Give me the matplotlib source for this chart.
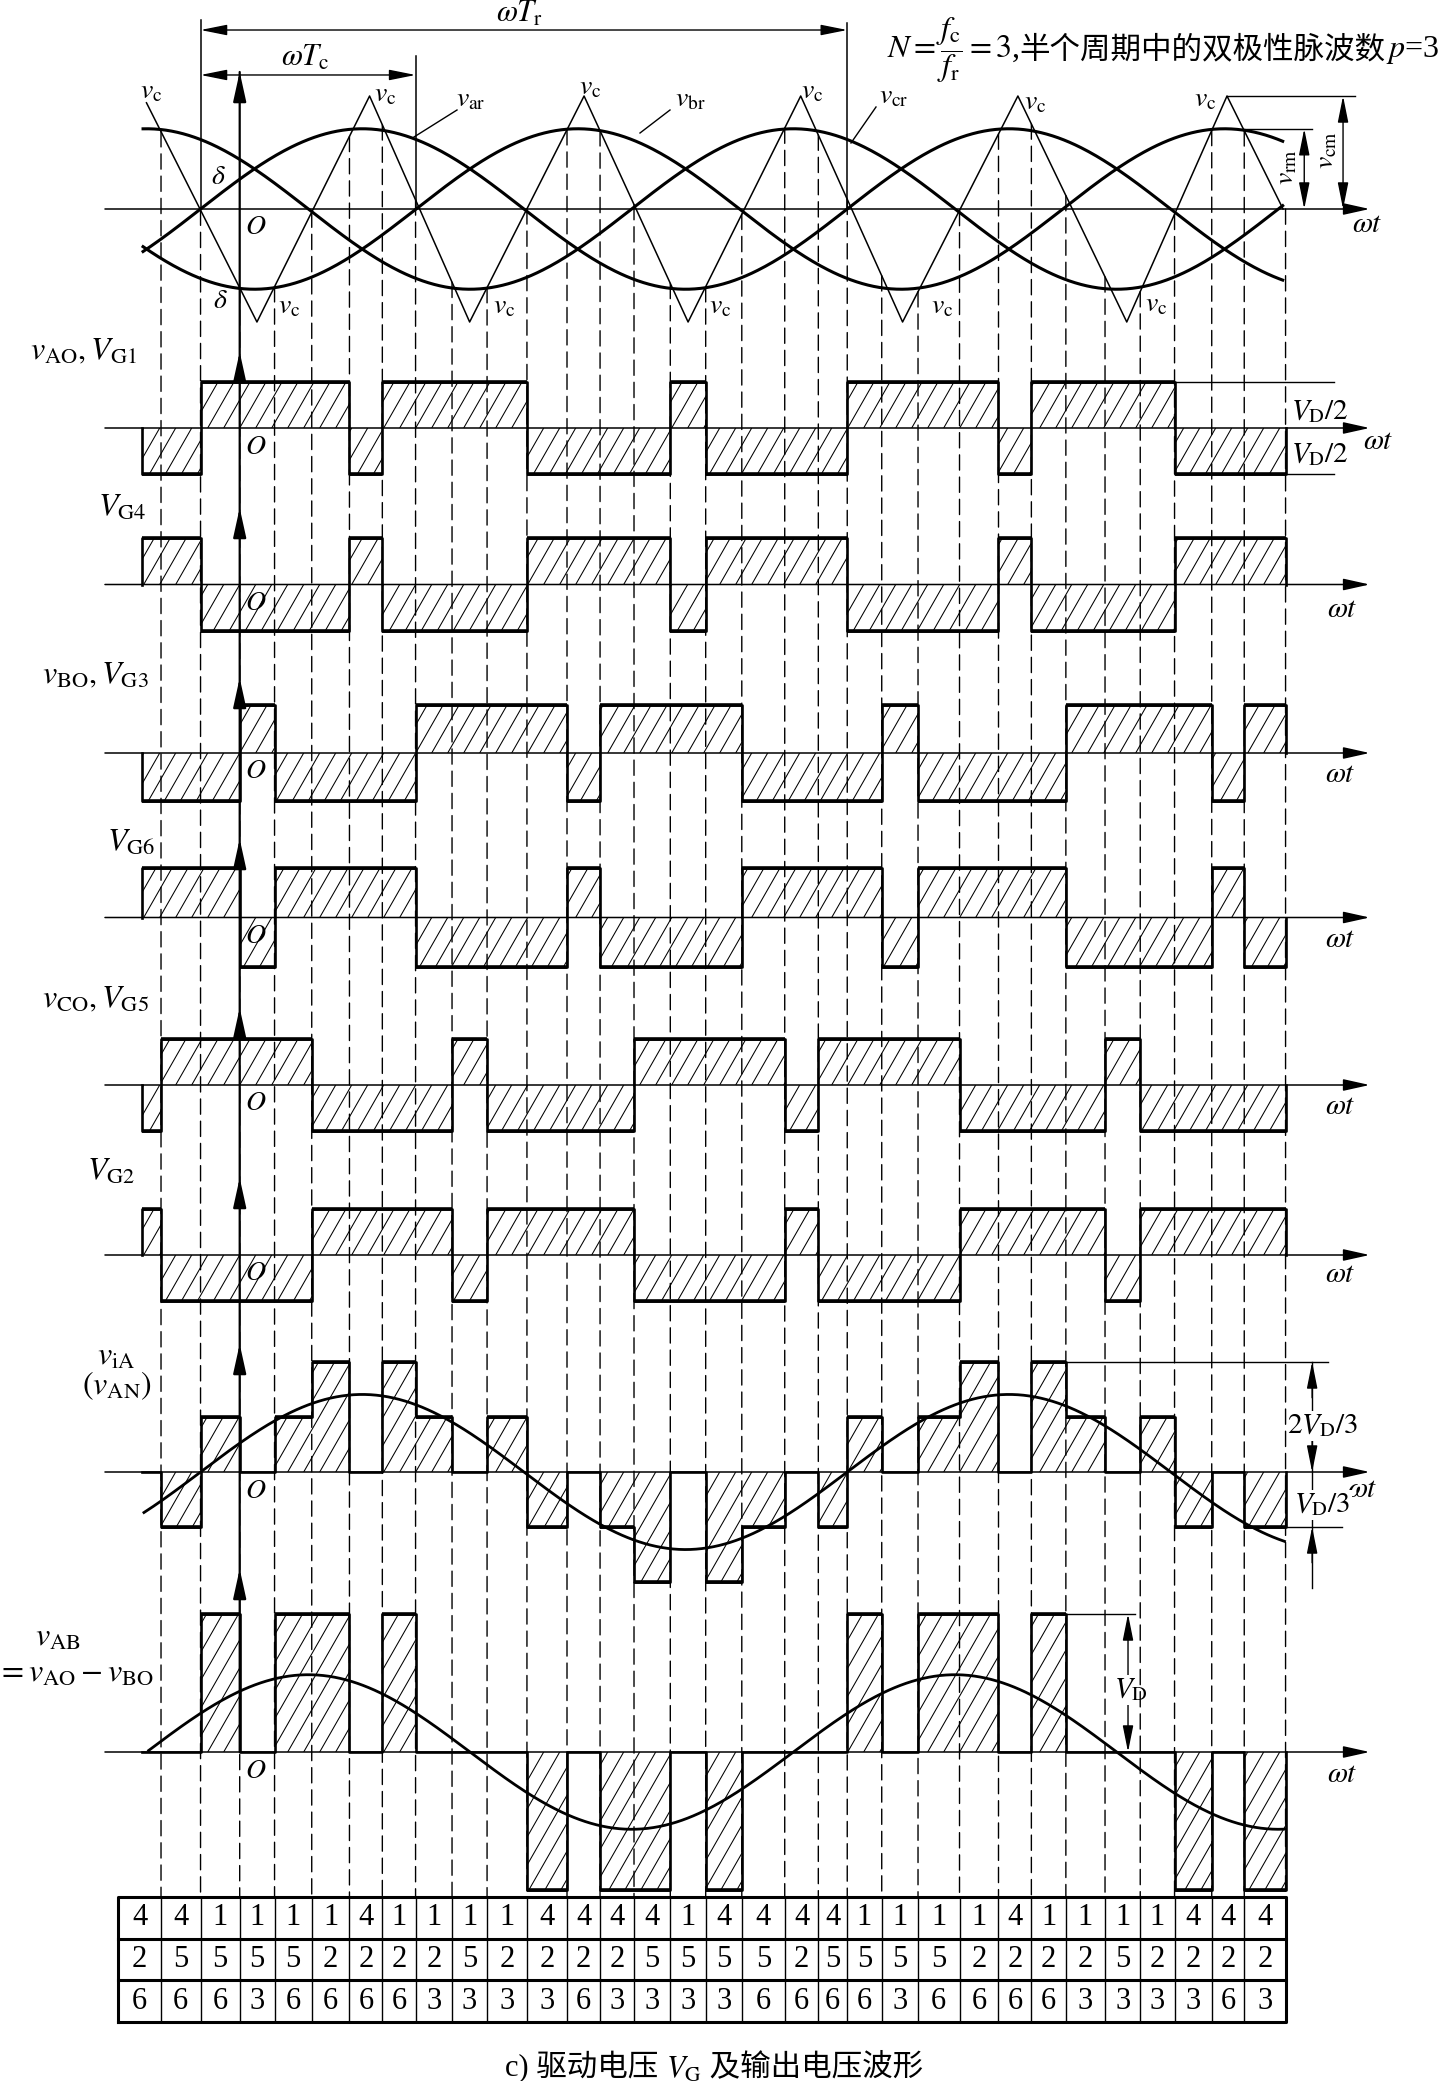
import numpy as np
import matplotlib
matplotlib.use("Agg")
import matplotlib.pyplot as plt
from matplotlib.collections import LineCollection
from matplotlib.patches import ConnectionPatch
from matplotlib.transforms import Bbox, TransformedBbox

plt.rcParams['font.family'] = ['Liberation Serif', 'Noto Sans CJK SC', 'DejaVu Sans']
plt.rcParams['mathtext.fontset'] = 'stix'

# ============================================================
# data  (x = wt in degrees, 0 at origin O)
# ============================================================
# switching instants: dashed lines and table column borders
edges = [-67.7, -43.8, -21.8, 0.0, 19.4, 40.1, 61.1, 79.4, 97.9, 118.2, 137.7,
         159.9, 182.2, 200.6, 219.5, 239.7, 259.4, 279.5, 303.4, 322.1, 338.2,
         357.4, 377.6, 400.7, 422.4, 440.7, 459.9, 481.7, 501.3, 520.4, 541.1,
         559.2, 582.2]
# table rows: devices that conduct in each interval
row_a = [4, 4, 1, 1, 1, 1, 4, 1, 1, 1, 1, 4, 4, 4, 4, 1, 4, 4, 4, 4, 1, 1, 1, 1, 4, 1, 1, 1, 1, 4, 4, 4]
row_c = [2, 5, 5, 5, 5, 2, 2, 2, 2, 5, 2, 2, 2, 2, 5, 5, 5, 5, 2, 5, 5, 5, 5, 2, 2, 2, 2, 5, 2, 2, 2, 2]
row_b = [6, 6, 6, 3, 6, 6, 6, 6, 3, 3, 3, 3, 6, 3, 3, 3, 3, 6, 6, 6, 6, 3, 6, 6, 6, 6, 3, 3, 3, 3, 6, 3]
pulse_start = -54.4          # pulses begin here (table starts further left)

# triangular carrier corners (level: 1 = carrier peak)
carrier_x = [-51.9, 9.6, 72.3, 128.0, 191.7, 249.6, 312.3, 369.0, 433.2, 493.8, 549.6, 580.8]
carrier_y = [0.94, -1, 1, -1, 1, -1, 1, -1, 1, -1, 1, 0]

# three reference sines v_ar, v_br, v_cr
ref_amp = 0.71
ref_zero = -21.8             # rising zero of v_ar
ref_shift = [0, 120, 240]
ref_lo, ref_hi = -53.8, 580.6

# fundamentals drawn in the v_AN and v_AB panels (units of V_D)
van_amp, van_lo, van_hi = 0.47, -53.3, 581.6
vab_amp, vab_zero, vab_lo, vab_hi = 0.56, -51.8, -50.7, 582.2

# pole voltages from the table (units of V_D)
vao = [0.5 if a == 1 else -0.5 for a in row_a]
vbo = [0.5 if b == 3 else -0.5 for b in row_b]
vco = [0.5 if c == 5 else -0.5 for c in row_c]
vg4 = [-v for v in vao]
vg6 = [-v for v in vbo]
vg2 = [-v for v in vco]
van = [(2 * a - b - c) / 3 for a, b, c in zip(vao, vbo, vco)]
vab = [a - b for a, b in zip(vao, vbo)]

# ============================================================
# layout (pixels of the 1456 x 2081 picture)
# ============================================================
W, H = 1456, 2081
O_PX, PX_DEG = 239.7, 1.7964
XL = (-O_PX / PX_DEG, (W - O_PX) / PX_DEG)
AX_L, AX_R = -75.0, 629.0
SLOPE, HSTEP = 1.75, 16.0     # hatch slope (px/px) and spacing (px)
LABEL_FS = 23
ARROW = dict(color='k', lw=1.0, shrinkA=0, shrinkB=0, mutation_scale=18)

fig = plt.figure(figsize=(W / 100, H / 100), dpi=100)


def add_panel(top, bot, base, scale):
    ax = fig.add_axes([0, 1 - bot / H, 1, (bot - top) / H])
    ax.set_xlim(XL)
    ax.set_ylim(-(bot - base) / scale, (base - top) / scale)
    ax.axis('off')
    return ax


def hatch(ax, x0, x1, y0, y1, scale):
    k = SLOPE * PX_DEG / scale
    lo, hi = min(y0, y1), max(y0, y1)
    step = HSTEP / PX_DEG
    cs = np.arange(np.floor((x0 - hi / k) / step) * step, x1 - lo / k + step, step)
    segs = [[(c + lo / k, lo), (c + hi / k, hi)] for c in cs]
    lc = LineCollection(segs, colors='k', linewidths=0.75)
    ax.add_collection(lc)
    lc.set_clip_path(None)
    lc.set_clip_box(TransformedBbox(Bbox.from_extents(x0, lo, x1, hi), ax.transData))


def axis_arrow(ax):
    ax.annotate('', xy=(AX_R, 0), xytext=(AX_L, 0),
                arrowprops=dict(arrowstyle='-|>,head_length=0.9,head_width=0.2', **dict(ARROW, lw=1.1)))


def wave(ax, levels, scale):
    xs = [max(e, pulse_start) for e in edges]
    for i, L in enumerate(levels):
        if L == 0:
            continue
        hatch(ax, xs[i], xs[i + 1], 0, L, scale)
        ax.plot([xs[i], xs[i + 1]], [L, L], color='k', lw=2.6, solid_capstyle='butt')
    px, py = [xs[0]], [0]
    for i, L in enumerate(levels):
        px += [xs[i], xs[i + 1]]
        py += [L, L]
    px.append(xs[-1])
    py.append(0)
    ax.plot(px, py, color='k', lw=1.9)


# ---------------- top panel: carrier and references ----------------
ax_top = add_panel(0, 335, 209, 113)
axis_arrow(ax_top)
ax_top.plot(carrier_x, carrier_y, color='k', lw=1.1)
t = np.linspace(ref_lo, ref_hi, 600)
for s in ref_shift:
    ax_top.plot(t, ref_amp * np.sin(np.radians(t - ref_zero - s)), color='k', lw=2.2)

# dimension lines wTr / wTc
for e, h in [(edges[2], 1.67), (edges[8], 1.35), (edges[20], 1.65)]:
    ax_top.plot([e, e], [0, h], color='k', lw=1.1)
for x1, yy in [(edges[20], 1.584), (edges[8], 1.186)]:
    ax_top.annotate('', xy=(x1, yy), xytext=(edges[2], yy),
                    arrowprops=dict(arrowstyle='<|-|>,head_length=0.9,head_width=0.18', **ARROW))
# v_rm / v_cm
ax_top.plot([558.6, 597.0], [ref_amp, ref_amp], color='k', lw=1.0)
ax_top.plot([carrier_x[-2], 620.9], [1, 1], color='k', lw=1.0)
for xa, ya in [(592.6, ref_amp), (614.2, 1.0)]:
    ax_top.annotate('', xy=(xa, ya), xytext=(xa, 0),
                    arrowprops=dict(arrowstyle='<|-|>,head_length=0.9,head_width=0.18', **ARROW))

# ---------------- pulse panels ----------------
panels = [
    # levels, band top, band bottom, baseline, px per V_D
    (vao, 335, 500, 428, 92),
    (vg4, 500, 665, 584.5, 92),
    (vbo, 665, 830, 753, 96),
    (vg6, 830, 995, 917.5, 98),
    (vco, 995, 1160, 1085, 92),
    (vg2, 1160, 1330, 1255, 92),
    (van, 1330, 1598, 1472, 165),
    (vab, 1598, 1897, 1752, 138),
]
axes = []
for levels, top, bot, base, scale in panels:
    ax = add_panel(top, bot, base, scale)
    axis_arrow(ax)
    wave(ax, levels, scale)
    axes.append(ax)

ax_an, ax_ab = axes[6], axes[7]
t = np.linspace(van_lo, van_hi, 600)
ax_an.plot(t, van_amp * np.sin(np.radians(t - ref_zero)), color='k', lw=2.0)
t = np.linspace(vab_lo, vab_hi, 600)
ax_ab.plot(t, vab_amp * np.sin(np.radians(t - vab_zero)), color='k', lw=2.0)

# extension lines on the right
ax_ao = axes[0]
ax_ao.plot([edges[29], 609.2], [0.5, 0.5], color='k', lw=1.0)
ax_ao.plot([edges[-1], 609.2], [-0.5, -0.5], color='k', lw=1.0)
ax_an.plot([edges[26], 605.9], [2 / 3, 2 / 3], color='k', lw=1.0)
ax_an.plot([edges[-1], 613.7], [-1 / 3, -1 / 3], color='k', lw=1.0)
ax_an.plot([597.0, 597.0], [-0.7, 2 / 3], color='k', lw=1.0)
for tip, tail in [(2 / 3, 0.45), (0, 0.2), (-1 / 3, -0.55)]:
    ax_an.annotate('', xy=(597.0, tip), xytext=(597.0, tail),
                   arrowprops=dict(arrowstyle='-|>,head_length=0.9,head_width=0.18', **ARROW))
ax_ab.plot([edges[26], 498.4], [1, 1], color='k', lw=1.0)
ax_ab.annotate('', xy=(494.5, 1), xytext=(494.5, 0),
               arrowprops=dict(arrowstyle='<|-|>,head_length=0.9,head_width=0.18', **ARROW))

# ---------------- table ----------------
ax_tab = fig.add_axes([0, 1 - 2022 / H, 1, (2022 - 1897) / H])
ax_tab.set_xlim(XL)
ax_tab.set_ylim(0, 3)
ax_tab.axis('off')
x0, x1 = edges[0], edges[-1]
ax_tab.plot([x0, x1, x1, x0, x0], [0, 0, 3, 3, 0], color='k', lw=2.2, clip_on=False)
for yy in (1, 2):
    ax_tab.plot([x0, x1], [yy, yy], color='k', lw=2.2, clip_on=False)
for e in edges[1:-1]:
    ax_tab.plot([e, e], [0, 3], color='k', lw=1.0, clip_on=False)
for r, row in enumerate([row_a, row_c, row_b]):
    for i, v in enumerate(row):
        ax_tab.text((edges[i] + edges[i + 1]) / 2, 2.5 - r, str(v), ha='center', va='center',
                    fontsize=22)

# dashed switching lines: from the carrier crossing down to the table
for e in edges[1:]:
    cp = ConnectionPatch(xyA=(e, np.interp(e, carrier_x, carrier_y)), coordsA='data', axesA=ax_top,
                         xyB=(e, 3), coordsB='data', axesB=ax_tab,
                         color='k', lw=1.0, linestyle=(0, (11, 5)))
    fig.add_artist(cp)
# vertical axis through all panels
cp = ConnectionPatch(xyA=(0, (209 - 72) / 113), coordsA='data', axesA=ax_top,
                     xyB=(0, 0), coordsB='data', axesB=ax_ab, color='k', lw=1.6)
fig.add_artist(cp)

# ---------------- overlay for labels (pixel coordinates) ----------------
ov = fig.add_axes([0, 0, 1, 1])
ov.set_xlim(0, W)
ov.set_ylim(H, 0)
ov.axis('off')

for tip in [72, 352, 508, 678, 839, 1008, 1178, 1344, 1569]:
    ov.annotate('', xy=(O_PX, tip), xytext=(O_PX, tip + 20),
                arrowprops=dict(arrowstyle='-|>,head_length=1.0,head_width=0.22', **dict(ARROW, lw=1.6)))


def T(x, y, s, fs=20, **kw):
    kw.setdefault('ha', 'center')
    kw.setdefault('va', 'center')
    return ov.text(x, y, s, fontsize=fs, **kw)


# top panel text
T(520, 14, r'$\omega T_{\rm r}$', 22)
T(305, 58, r'$\omega T_{\rm c}$', 22)
for x, y in [(151, 92), (385, 95), (590, 88), (812, 92), (1035, 103), (1205, 100),
             (289, 307), (504, 307), (720, 307), (942, 307), (1156, 305)]:
    T(x, y, r'$v_{\rm c}$', 20)
T(471, 100, r'$v_{\rm ar}$', 20)
T(690, 100, r'$v_{\rm br}$', 20)
T(894, 97, r'$v_{\rm cr}$', 20)
for (xa, ya), (xb, yb) in [((414, 137), (457, 110)), ((640, 133), (670, 110)), ((851, 143), (876, 107))]:
    ov.plot([xa, xb], [ya, yb], color='k', lw=1.0)
T(218, 178, r'$\delta$', 20)
T(220, 302, r'$\delta$', 20)
T(1287, 167, r'$v_{\rm rm}$', 20, rotation=90)
T(1327, 150, r'$v_{\rm cm}$', 20, rotation=90)

# O and wt labels
for base in [209, 428, 584.5, 753, 917.5, 1085, 1255, 1472, 1752]:
    T(256, base + 19, r'$O$', 20)
for x, y in [(1367, 225), (1378, 442), (1342, 610), (1340, 775), (1340, 940),
             (1340, 1107), (1340, 1275), (1362, 1490), (1342, 1775)]:
    T(x, y, r'$\omega t$', 21)

# panel names
for x, y, s in [(30, 352, r'$v_{\rm AO},V_{\rm G1}$'), (98, 508, r'$V_{\rm G4}$'),
                (42, 676, r'$v_{\rm BO},V_{\rm G3}$'), (107, 843, r'$V_{\rm G6}$'),
                (42, 1000, r'$v_{\rm CO},V_{\rm G5}$'), (87, 1172, r'$V_{\rm G2}$'),
                (97, 1357, r'$v_{\rm iA}$'), (82, 1386, r'$(v_{\rm AN})$'),
                (35, 1638, r'$v_{\rm AB}$'), (-3, 1674, r'$=v_{\rm AO}-v_{\rm BO}$')]:
    T(x, y, s, LABEL_FS, ha='left')

# right side values
T(1320, 412, r'$V_{\rm D}/2$', 21)
T(1320, 455, r'$V_{\rm D}/2$', 21)
T(1322, 1426, r'$2V_{\rm D}/3$', 21, bbox=dict(fc='white', ec='none', pad=1))
T(1322, 1505, r'$V_{\rm D}/3$', 21, bbox=dict(fc='white', ec='none', pad=1))
T(1131, 1690, r'$V_{\rm D}$', 21, bbox=dict(fc='white', ec='none', pad=1))

# formula at top right
t1 = T(887, 50, r'$N=\dfrac{f_{\rm c}}{f_{\rm r}}=3$,', 23, ha='left')
t2 = ov.annotate('半个周期中的双极性脉波数', xy=(1, 0.5), xycoords=t1, ha='left', va='center',
                 fontsize=22, family=['Noto Sans CJK SC'])
ov.annotate(r'$p$=3', xy=(1, 0.5), xycoords=t2, ha='left', va='center', fontsize=23)

# caption
c1 = T(505, 2067, 'c) 驱动电压 ', 22, ha='left', family=['Liberation Serif', 'Noto Sans CJK SC'])
c2 = ov.annotate(r'$V_{\rm G}$', xy=(1, 0.4), xycoords=c1, ha='left', va='center', fontsize=22)
ov.annotate(' 及输出电压波形', xy=(1, 0.6), xycoords=c2, ha='left', va='center', fontsize=22,
            family=['Liberation Serif', 'Noto Sans CJK SC'])

fig.savefig('out.png', dpi=100)
